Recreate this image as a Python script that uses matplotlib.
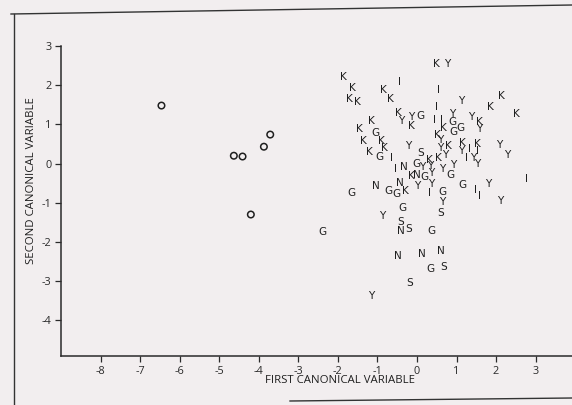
"""Canonical variable scatter: letter-coded groups, first vs second canonical variable."""

import matplotlib
matplotlib.use("Agg")
import matplotlib.pyplot as plt
from matplotlib.lines import Line2D

plt.rcParams["axes.unicode_minus"] = False

# group letters -> (first, second) canonical scores
K_x = [-1.87, -1.64, -1.70, -1.51, -0.85, -0.68, 0.50, -0.47, -0.15, -1.15, -1.46, -1.36,
       -0.90, -0.81, -1.21, 2.13, 1.85, 2.52, 1.59, 0.66, 0.52, 0.79, 1.15, 1.54, 0.31,
       0.54, -0.15, -0.28]
K_y = [2.21, 1.93, 1.66, 1.56, 1.88, 1.66, 2.55, 1.28, 0.95, 1.08, 0.87, 0.57,
       0.57, 0.39, 0.29, 1.73, 1.45, 1.26, 1.07, 0.90, 0.73, 0.45, 0.53, 0.50, 0.10,
       0.13, -0.32, -0.71]
Y_x = [0.77, 1.13, -0.41, -0.15, 1.37, 0.88, 1.58, 0.58, 0.60, -0.22, 1.11, 0.71, 1.41,
       1.53, 2.08, 2.27, 0.14, 0.33, 0.35, 0.65, 0.92, 0.01, 0.35, 0.65, 1.79, 2.10,
       -0.87, -1.15]
Y_y = [2.53, 1.60, 1.08, 1.20, 1.20, 1.27, 0.87, 0.60, 0.41, 0.45, 0.31, 0.23, 0.13,
       -0.01, 0.47, 0.22, -0.08, -0.06, -0.25, -0.13, -0.03, -0.56, -0.52, -0.97, -0.53,
       -0.96, -1.35, -3.38]
I_x = [-0.43, 0.54, 0.49, 0.44, 0.63, 1.32, 1.52, 1.25, -0.64, -0.54, 0.31, 1.47, 1.59, 2.76]
I_y = [2.07, 1.88, 1.45, 1.12, 1.12, 0.36, 0.32, 0.13, 0.13, -0.14, -0.74, -0.67, -0.84, -0.39]
G_x = [0.09, 0.89, 0.91, 1.11, -1.04, -0.94, -0.01, 0.18, 0.85, 1.15, -0.73, -0.52, -1.65,
       0.65, -0.36, 0.37, -2.39, 0.33]
G_y = [1.22, 1.07, 0.81, 0.90, 0.79, 0.17, -0.02, -0.33, -0.29, -0.55, -0.71, -0.78, -0.76,
       -0.73, -1.13, -1.72, -1.75, -2.68]
N_x = [-0.32, 0.00, -1.04, -0.43, -0.41, -0.49, 0.13, 0.61]
N_y = [-0.09, -0.30, -0.57, -0.50, -1.72, -2.37, -2.30, -2.23]
S_x = [0.09, 0.59, -0.41, -0.20, 0.68, -0.19]
S_y = [0.26, -1.26, -1.49, -1.68, -2.64, -3.06]
# outliers drawn as open circles
O_x = [-6.46, -3.71, -3.87, -4.63, -4.41, -4.20]
O_y = [1.48, 0.74, 0.43, 0.20, 0.18, -1.30]

x_ticks = [-8, -7, -6, -5, -4, -3, -2, -1, 0, 1, 2, 3]
y_ticks = [-4, -3, -2, -1, 0, 1, 2, 3]

paper = "#f2eeef"
ink = "#1f1f1f"

fig = plt.figure(figsize=(5.72, 4.05), dpi=100, facecolor=paper)
ax = fig.add_axes([61 / 572, 1 - 356 / 405, 1 - 61 / 572, (356 - 46) / 405])
ax.set_facecolor(paper)

groups = [("K", K_x, K_y), ("Y", Y_x, Y_y), ("I", I_x, I_y), ("G", G_x, G_y),
          ("N", N_x, N_y), ("S", S_x, S_y)]
for letter, xs, ys in groups:
    for x, y in zip(xs, ys):
        ax.text(x, y, letter, ha="center", va="center", fontsize=7.6,
                family="DejaVu Sans", color=ink)
ax.scatter(O_x, O_y, s=22, facecolors="none", edgecolors=ink, linewidths=1.1)

ax.set_xlim(-9.0, 3.92)
ax.set_ylim(-4.91, 3.0)
ax.set_xticks(x_ticks)
ax.set_yticks(y_ticks)
for side in ("top", "right"):
    ax.spines[side].set_visible(False)
for side in ("left", "bottom"):
    ax.spines[side].set_color("#2a2a2a")
    ax.spines[side].set_linewidth(1.1)
ax.tick_params(direction="out", length=4, width=0.9, colors="#2a2a2a",
               labelsize=7.8, pad=3)
for lab in ax.get_xticklabels() + ax.get_yticklabels():
    lab.set_family("Open Sans")

ax.set_xlabel("FIRST CANONICAL VARIABLE", family="Open Sans", fontsize=8.2, color=ink)
ax.set_ylabel("SECOND CANONICAL VARIABLE", family="Open Sans", fontsize=8.2, color=ink)
ax.xaxis.set_label_coords(0.546, -0.08)
ax.xaxis.label.set_va("center")
ax.yaxis.set_label_coords(-0.057, 0.565)
ax.yaxis.label.set_va("center")

# page frame around the scanned figure
W, H = 572.0, 405.0
for (x0, y0), (x1, y1) in [((14, 14), (14, 405)), ((11, 14), (572, 5)),
                           ((290, 401), (572, 398))]:
    fig.add_artist(Line2D([x0 / W, x1 / W], [1 - y0 / H, 1 - y1 / H],
                          color="#333333", lw=1.0, transform=fig.transFigure))

fig.savefig("out.png", dpi=100, facecolor=paper)
